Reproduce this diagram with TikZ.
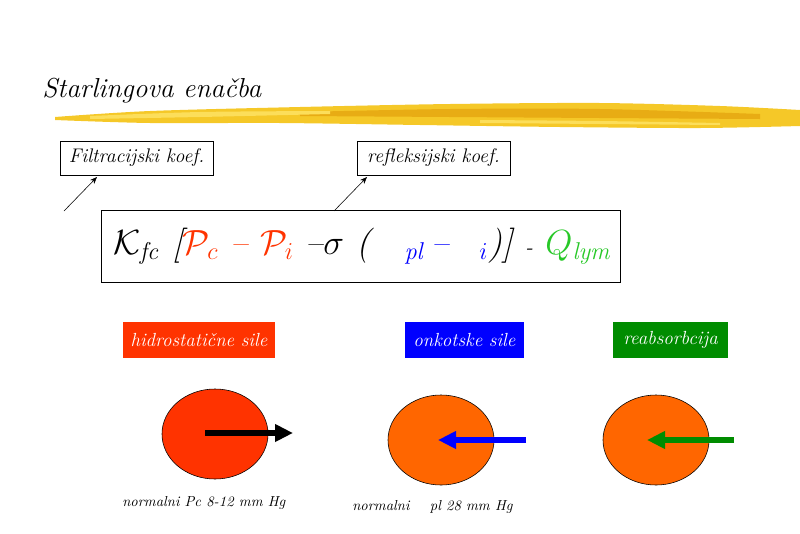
\documentclass[tikz,border=0pt]{standalone}
\usepackage{amsmath}
\usepackage{tikz}
\usetikzlibrary{arrows.meta,calc,positioning,shapes.geometric}
\definecolor{hidrored}{RGB}{255,51,0}
\definecolor{cellorange}{RGB}{255,102,0}
\definecolor{onkoblue}{RGB}{0,0,255}
\definecolor{reabgreen}{RGB}{0,140,0}
\definecolor{lymgreen}{RGB}{40,200,40}
\definecolor{brush}{RGB}{245,200,40}
\definecolor{brushdark}{RGB}{232,172,20}
\definecolor{brushlight}{RGB}{252,222,90}

\tikzset{
  koefbox/.style={draw, thin, font=\itshape\fontsize{14}{16}\selectfont,
    minimum width=3.825cm, minimum height=0.85cm, inner sep=1pt},
  silabox/.style={text=white, font=\itshape\fontsize{13.5}{16}\selectfont,
    minimum height=0.9cm, inner sep=1pt},
  cell/.style={ellipse, draw, thin, minimum width=2.65cm, minimum height=2.25cm},
  koefarrow/.style={-{Stealth[length=5pt,width=4pt]}, thin},
  forcearrow/.style={-{Triangle[length=0.45cm,width=0.42cm]}, line width=0.15cm},
  normtext/.style={font=\itshape\fontsize{10.3}{12}\selectfont, anchor=base west, inner sep=0pt}
}

\begin{document}
\begin{tikzpicture}[x=0.025cm,y=-0.025cm]
  \useasboundingbox (0,0) rectangle (800,533);

  % naslov in čopič
  \node [anchor=base west, inner sep=0pt, font=\itshape\fontsize{19.5}{22}\selectfont] (title) at (42,97) {Starlingova enačba};
  \fill [brush] plot [smooth] coordinates {(55,117) (150,111) (300,107) (450,104) (600,103) (720,106) (800,110)}
    -- plot [smooth] coordinates {(800,126) (700,128) (560,127) (420,125) (280,123) (150,123) (55,120)} -- cycle;
  \fill [brushdark] plot [smooth] coordinates {(300,112) (450,109) (600,109) (760,114)}
    -- plot [smooth] coordinates {(760,119) (600,118) (450,117) (300,116)} -- cycle;
  \fill [brushlight] plot [smooth] coordinates {(90,116) (200,112) (330,111)}
    -- plot [smooth] coordinates {(330,114) (200,117) (90,119)} -- cycle;
  \fill [brushlight] plot [smooth] coordinates {(480,120) (600,121) (720,123)}
    -- plot [smooth] coordinates {(720,125) (600,124) (480,123)} -- cycle;

  % koeficienta
  \node [koefbox] (filtr) at (136.5,158) {Filtracijski koef.};
  \node [koefbox] (refl) at (433.5,158) {refleksijski koef.};

  % enačba
  \node [draw, thin, minimum width=12.975cm, minimum height=1.8cm, inner sep=0pt,
    font=\itshape\fontsize{25}{30}\selectfont] (formula) at (360.5,246)
    {\hspace{3pt}$\mathcal{K}_{\mathit{fc}}$ [\textcolor{hidrored}{$\mathcal{P}_{c}$ -- $\mathcal{P}_{i}$} --{\fontsize{29}{30}\selectfont$\sigma$} (\hspace{0.85cm}\textcolor{onkoblue}{$_{\mathit{pl}}$\,--\hspace{0.75cm}$_{i}$})] {\fontsize{16}{18}\selectfont -} \textcolor{lymgreen}{$Q_{\mathit{lym}}$}};

  \coordinate (fa) at (64,211);
  \coordinate (fb) at (97,177);
  \coordinate (ra) at (334,211);
  \coordinate (rb) at (367,177);
  \draw [koefarrow] (fa) -- (fb);
  \draw [koefarrow] (ra) -- (rb);

  % sile
  \node [silabox, fill=hidrored, minimum width=3.8cm] (hidro) at (199,340) {hidrostatične sile};
  \node [silabox, fill=onkoblue, minimum width=2.975cm] (onko) at (464.5,340) {onkotske sile};
  \node [silabox, fill=reabgreen, minimum width=2.875cm] (reab) at (670.5,340) {reabsorbcija};

  % celice
  \node [cell, fill=hidrored] (cellA) at (215,434) {};
  \node [cell, fill=cellorange] (cellB) at (441,440) {};
  \node [cell, fill=cellorange] (cellC) at (656,440) {};

  \coordinate (aA) at (205,433);
  \coordinate (bA) at (293,433);
  \coordinate (aB) at (526,440);
  \coordinate (bB) at (438,440);
  \coordinate (aC) at (734,440);
  \coordinate (bC) at (647,440);
  \draw [forcearrow, black] (aA) -- (bA);
  \draw [forcearrow, onkoblue] (aB) -- (bB);
  \draw [forcearrow, reabgreen] (aC) -- (bC);

  \node [normtext] (normA) at (122,506) {normalni Pc 8-12 mm Hg};
  \node [normtext] (normB) at (352,510) {normalni \hspace{0.25cm} pl 28 mm Hg};
\end{tikzpicture}
\end{document}
